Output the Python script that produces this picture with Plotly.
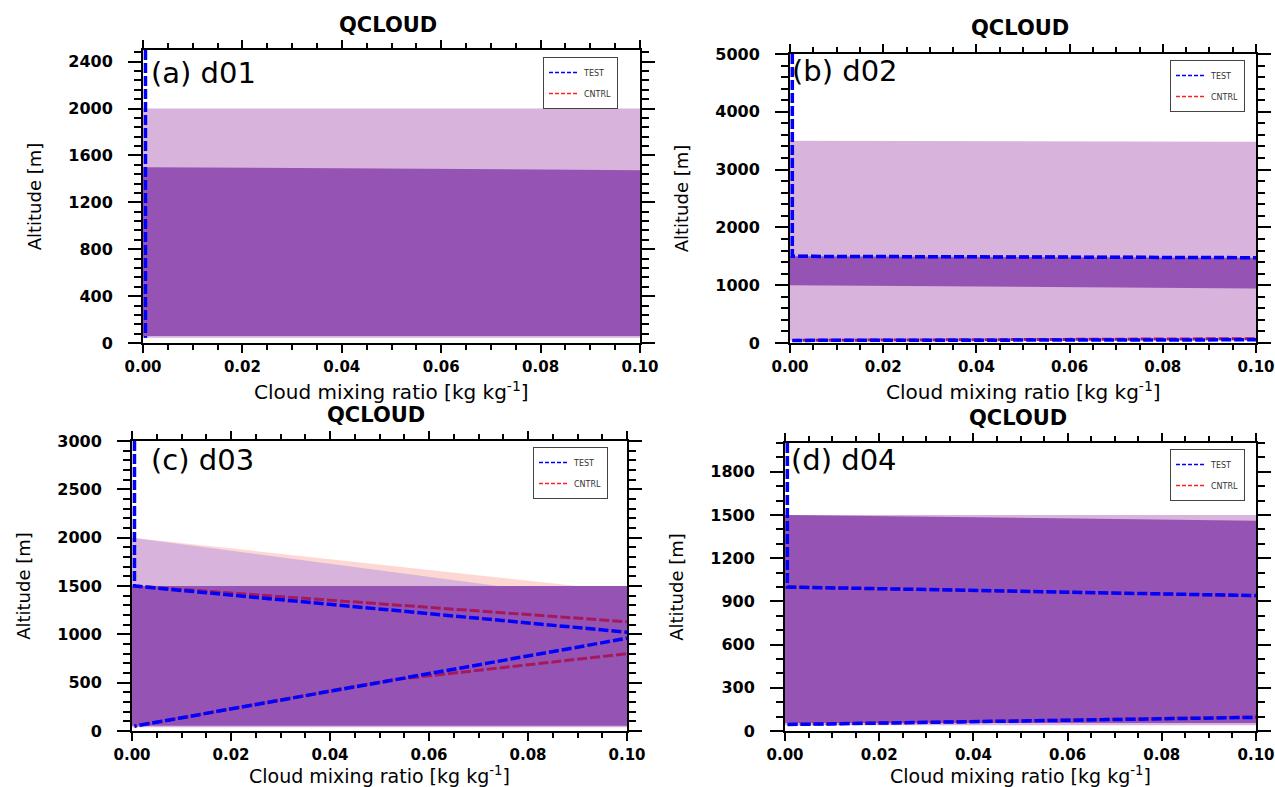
import plotly.graph_objects as go

# ---------------- data ----------------
# horizontal window of cloud mixing ratio shown on every panel [kg kg-1]
QC_RANGE = [0.0, 0.10]
QC_TICKS = [0.0, 0.02, 0.04, 0.06, 0.08, 0.10]
QC_TICK_TEXT = ["0.00", "0.02", "0.04", "0.06", "0.08", "0.10"]

PANEL_LABELS = ["(a) d01", "(b) d02", "(c) d03", "(d) d04"]
SERIES_NAMES = ["TEST", "CNTRL"]
X_TITLE = "Cloud mixing ratio [kg kg<sup>-1</sup>]"
Y_TITLE = "Altitude [m]"
PLOT_TITLE = "QCLOUD"

# altitude axes [m]
d01_z_range = [0, 2500]
d01_z_ticks = [0, 400, 800, 1200, 1600, 2000, 2400]
d02_z_range = [0, 5000]
d02_z_ticks = [0, 1000, 2000, 3000, 4000, 5000]
d03_z_range = [0, 3000]
d03_z_ticks = [0, 500, 1000, 1500, 2000, 2500, 3000]
d04_z_range = [0, 2000]
d04_z_ticks = [0, 300, 600, 900, 1200, 1500, 1800]

# shaded cloud layers: mixing-ratio nodes with layer base / top altitude
d01_light_q = [0.0, 0.10]
d01_light_base = [45, 45]
d01_light_top = [2000, 2000]
d01_dark_q = [0.0, 0.10]
d01_dark_base = [60, 60]
d01_dark_top = [1500, 1475]

d02_light_q = [0.0, 0.10]
d02_light_base = [45, 45]
d02_light_top = [3500, 3480]
d02_dark_q = [0.0, 0.10]
d02_dark_base = [1000, 945]
d02_dark_top = [1500, 1475]

d03_pink_q = [0.0, 0.090, 0.10]
d03_pink_base = [1500, 1500, 1500]
d03_pink_top = [2000, 1500, 1500]
d03_light_q = [0.0, 0.074, 0.10]
d03_light_base = [40, 40, 40]
d03_light_top = [2000, 1500, 1500]
d03_dark_q = [0.0, 0.10]
d03_dark_base = [55, 55]
d03_dark_top = [1500, 1500]

d04_light_q = [0.0, 0.10]
d04_light_base = [40, 40]
d04_light_top = [1500, 1500]
d04_dark_q = [0.0, 0.10]
d04_dark_base = [55, 55]
d04_dark_top = [1500, 1460]

# vertical profiles (mixing ratio, altitude)
d01_test_q = [0.0005, 0.0005]
d01_test_z = [2500, 45]
d01_cntrl_q = [0.0005, 0.0005]
d01_cntrl_z = [2500, 45]

d02_test_q = [0.0005, 0.0005, 0.20, 0.20, 0.0005]
d02_test_z = [5000, 1500, 1452, 65, 45]
d02_cntrl_q = [0.0005, 0.0005, 0.20, 0.20, 0.0005]
d02_cntrl_z = [5000, 1500, 1450, 105, 45]

d03_test_q = [0.0005, 0.0005, 0.1045, 0.052, 0.0005]
d03_test_z = [3000, 1500, 1000, 525, 50]
d03_cntrl_q = [0.0005, 0.0005, 0.135, 0.052, 0.0005]
d03_cntrl_z = [3000, 1500, 1000, 525, 50]

d04_test_q = [0.0005, 0.0005, 0.20, 0.20, 0.0005]
d04_test_z = [2000, 1000, 880, 145, 45]
d04_cntrl_q = [0.0005, 0.0005, 0.20, 0.20, 0.0005]
d04_cntrl_z = [2000, 1000, 878, 150, 45]

# ---------------- styling ----------------
DARK = "#9553B4"
LIGHT = "#D8B4DC"
PINK = "#FDD8D3"
BLUE = "#0000FF"
RED_IN_CLOUD = "#A5195C"
RED = "#FF2020"
FONT = "DejaVu Sans"
DASH = "10px,3px"

W, H = 1275, 787


def band(q, base, top):
    """Closed polygon between a layer base and top."""
    return list(q) + list(q)[::-1], list(base) + list(top)[::-1]


panels = [
    dict(
        box=(143, 640, 50, 343), z_range=d01_z_range, z_ticks=d01_z_ticks, z_minor=80,
        bands=[(d01_light_q, d01_light_base, d01_light_top, LIGHT),
               (d01_dark_q, d01_dark_base, d01_dark_top, DARK)],
        test=(d01_test_q, d01_test_z), cntrl=(d01_cntrl_q, d01_cntrl_z),
        legend_box=(543, 57), title_xy=(388, 25), label_xy=(149, 73),
        xtitle_y=391, xtitle_size=20,
    ),
    dict(
        box=(790, 1256, 54, 343), z_range=d02_z_range, z_ticks=d02_z_ticks, z_minor=200,
        bands=[(d02_light_q, d02_light_base, d02_light_top, LIGHT),
               (d02_dark_q, d02_dark_base, d02_dark_top, DARK)],
        test=(d02_test_q, d02_test_z), cntrl=(d02_cntrl_q, d02_cntrl_z),
        legend_box=(1170, 60), title_xy=(1020, 28), label_xy=(790, 71),
        xtitle_y=391, xtitle_size=20,
    ),
    dict(
        box=(132, 627, 441, 731), z_range=d03_z_range, z_ticks=d03_z_ticks, z_minor=100,
        bands=[(d03_pink_q, d03_pink_base, d03_pink_top, PINK),
               (d03_light_q, d03_light_base, d03_light_top, LIGHT),
               (d03_dark_q, d03_dark_base, d03_dark_top, DARK)],
        test=(d03_test_q, d03_test_z), cntrl=(d03_cntrl_q, d03_cntrl_z),
        legend_box=(533, 447), title_xy=(376, 415), label_xy=(149, 460),
        xtitle_y=775, xtitle_size=19,
    ),
    dict(
        box=(785, 1256, 443, 731), z_range=d04_z_range, z_ticks=d04_z_ticks, z_minor=100,
        bands=[(d04_light_q, d04_light_base, d04_light_top, LIGHT),
               (d04_dark_q, d04_dark_base, d04_dark_top, DARK)],
        test=(d04_test_q, d04_test_z), cntrl=(d04_cntrl_q, d04_cntrl_z),
        legend_box=(1170, 449), title_xy=(1018, 418), label_xy=(789, 460),
        xtitle_y=775, xtitle_size=19,
    ),
]

fig = go.Figure()
layout = dict(
    width=W, height=H, margin=dict(l=0, r=0, t=0, b=0, autoexpand=False),
    paper_bgcolor="white", plot_bgcolor="white",
    font=dict(family=FONT, color="black"),
    annotations=[],
)

for i, p in enumerate(panels):
    n = "" if i == 0 else str(i + 1)
    xa, ya = "x" + n, "y" + n
    leg = "legend" + n

    for q, base, top, color in p["bands"]:
        px, pz = band(q, base, top)
        fig.add_trace(go.Scatter(
            x=px, y=pz, xaxis=xa, yaxis=ya, mode="lines", fill="toself",
            fillcolor=color, line=dict(width=0, color=color),
            hoverinfo="skip", showlegend=False))

    cq, cz = p["cntrl"]
    fig.add_trace(go.Scatter(
        x=cq, y=cz, xaxis=xa, yaxis=ya, mode="lines",
        line=dict(color=RED_IN_CLOUD, width=3, dash=DASH),
        name="CNTRL", showlegend=False))
    tq, tz = p["test"]
    fig.add_trace(go.Scatter(
        x=tq, y=tz, xaxis=xa, yaxis=ya, mode="lines",
        line=dict(color=BLUE, width=3.5, dash=DASH),
        name="TEST", showlegend=False))

    # legend entries
    for name, color in zip(SERIES_NAMES, [BLUE, RED]):
        fig.add_trace(go.Scatter(
            x=[None], y=[None], xaxis=xa, yaxis=ya, mode="lines",
            line=dict(color=color, width=1.5, dash="4px,2px"),
            name=name, legend=leg, legendgroup=name + n, showlegend=True))

    x0, x1, y0, y1 = p["box"]
    layout["xaxis" + n] = dict(
        domain=[x0 / W, x1 / W], anchor=ya, range=QC_RANGE, automargin=False,
        tickvals=QC_TICKS, ticktext=QC_TICK_TEXT, ticklabeloverflow="allow",
        ticks="outside", ticklen=8, tickwidth=2, tickcolor="black",
        showline=True, linewidth=2, linecolor="black", mirror="allticks",
        showgrid=False, zeroline=False,
        minor=dict(dtick=0.005, tick0=0, ticks="outside", ticklen=5,
                   tickwidth=1.5, tickcolor="black", showgrid=False),
        tickfont=dict(family=FONT, size=15, weight="bold"),
        ticklabelstandoff=1,
    )
    layout["yaxis" + n] = dict(
        domain=[1 - y1 / H, 1 - y0 / H], anchor=xa, range=p["z_range"],
        automargin=False, ticklabeloverflow="allow",
        tickvals=p["z_ticks"], ticktext=[str(v) for v in p["z_ticks"]],
        ticks="outside", ticklen=13, tickwidth=2, tickcolor="black",
        showline=True, linewidth=2, linecolor="black", mirror="allticks",
        showgrid=False, zeroline=False,
        minor=dict(dtick=p["z_minor"], tick0=0, ticks="outside", ticklen=7,
                   tickwidth=1.5, tickcolor="black", showgrid=False),
        tickfont=dict(family=FONT, size=16, weight="bold"),
        ticklabelstandoff=12,
        title=dict(text=Y_TITLE, font=dict(family=FONT, size=18), standoff=22),
    )
    lx, ly = p["legend_box"]
    layout[leg] = dict(
        x=lx / W, y=1 - ly / H, xanchor="left", yanchor="top",
        bgcolor="white", bordercolor="#444", borderwidth=1,
        font=dict(family=FONT, size=8, color="#333"),
        itemwidth=30, tracegroupgap=2,
    )
    tx, ty = p["title_xy"]
    layout["annotations"].append(dict(
        text=PLOT_TITLE, x=tx / W, y=1 - ty / H, xref="paper", yref="paper",
        xanchor="center", yanchor="middle", showarrow=False,
        font=dict(family=FONT, size=21, weight="bold")))
    bx, by = p["label_xy"]
    layout["annotations"].append(dict(
        text=PANEL_LABELS[i], x=bx / W, y=1 - by / H, xref="paper", yref="paper",
        xanchor="left", yanchor="middle", showarrow=False,
        font=dict(family=FONT, size=29)))
    layout["annotations"].append(dict(
        text=X_TITLE, x=(x0 + x1) / 2 / W, y=1 - p["xtitle_y"] / H,
        xref="paper", yref="paper", xanchor="center", yanchor="middle",
        showarrow=False, font=dict(family=FONT, size=p["xtitle_size"])))

fig.update_layout(**layout)
fig.write_html("out.html")
